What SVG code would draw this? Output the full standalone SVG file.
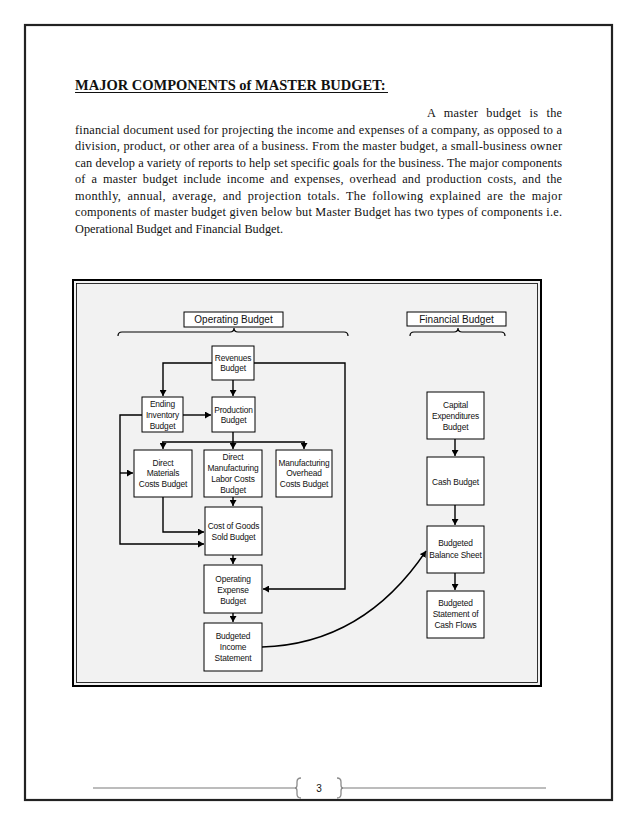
<svg xmlns="http://www.w3.org/2000/svg" width="638" height="826" viewBox="0 0 638 826">
<defs>
<style>
.body{font-family:"Liberation Serif","Times New Roman",serif;font-size:12.3px;fill:#111}
.title{font-family:"Liberation Serif","Times New Roman",serif;font-size:14.5px;font-weight:bold;fill:#111}
.box{fill:#fff;stroke:#000;stroke-width:1}
.lbl{font-family:"Liberation Sans",Arial,sans-serif;font-size:8.4px;fill:#111;text-anchor:middle;letter-spacing:-0.15px}
.hdr{font-family:"Liberation Sans",Arial,sans-serif;font-size:10px;fill:#111;text-anchor:middle}
.con{fill:none;stroke:#000;stroke-width:1.4}
.brace{fill:none;stroke:#000;stroke-width:1.2}
</style>
<marker id="arr" markerUnits="userSpaceOnUse" markerWidth="7" markerHeight="7" refX="6" refY="3.5" orient="auto">
<path d="M0,0 L6,3.5 L0,7 Z" fill="#000"/>
</marker>
</defs>
<rect x="0" y="0" width="638" height="826" fill="#fff"/>
<!-- page border -->
<rect x="25" y="25" width="587" height="775" fill="none" stroke="#222" stroke-width="2.2"/>

<!-- heading and body -->
<g id="heading">
<text class="title" x="75" y="90">MAJOR COMPONENTS of MASTER BUDGET:</text>
<line x1="75" y1="92.5" x2="388" y2="92.5" stroke="#111" stroke-width="1"/>
</g>
<g id="bodytext">
<text class="body" x="427" y="117" word-spacing="5" textLength="135" lengthAdjust="spacing">A master budget is the</text>
<text class="body" x="75" y="133.5" textLength="487" lengthAdjust="spacing">financial document used for projecting the income and expenses of a company, as opposed to a</text>
<text class="body" x="75" y="150" textLength="487" lengthAdjust="spacing">division, product, or other area of a business. From the master budget, a small-business owner</text>
<text class="body" x="75" y="166.5" textLength="487" lengthAdjust="spacing">can develop a variety of reports to help set specific goals for the business. The major components</text>
<text class="body" x="75" y="183" word-spacing="2.5" textLength="487" lengthAdjust="spacing">of a master budget include income and expenses, overhead and production costs, and the</text>
<text class="body" x="75" y="199.5" word-spacing="2.7" textLength="487" lengthAdjust="spacing">monthly, annual, average, and projection totals. The following explained are the major</text>
<text class="body" x="75" y="216" textLength="487" lengthAdjust="spacing">components of master budget given below but Master Budget has two types of components i.e.</text>
<text class="body" x="75" y="232.5">Operational Budget and Financial Budget.</text>
</g>

<!-- diagram frame -->
<g id="frame">
<rect x="73" y="280" width="468" height="406" fill="#f2f2f2" stroke="#000" stroke-width="2"/>
<rect x="76.5" y="283.5" width="461" height="399" fill="none" stroke="#000" stroke-width="0.8"/>
</g>

<g id="operating-header">
<rect x="184" y="312" width="99" height="15" class="box"/>
<text class="hdr" x="233.5" y="323">Operating Budget</text>
<path class="brace" d="M118,336 Q118,332 122,332 L230,332 Q234,332 234,328 Q234,332 238,332 L344,332 Q348,332 348,336"/>
</g>
<g id="financial-header">
<rect x="407" y="312" width="99" height="14" class="box"/>
<text class="hdr" x="456.5" y="323">Financial Budget</text>
<path class="brace" d="M410,336 Q410,332 414,332 L454,332 Q458,332 458,328 Q458,332 462,332 L501,332 Q505,332 505,336"/>
</g>

<!-- connectors -->
<g id="connectors">
<path class="con" d="M212,363 H163 V396" marker-end="url(#arr)"/>
<path class="con" d="M233,380 V396" marker-end="url(#arr)"/>
<path class="con" d="M254,363 H345 V589 H263" marker-end="url(#arr)"/>
<path class="con" d="M183,415 H211" marker-end="url(#arr)"/>
<path class="con" d="M142,415 H120 V544 H204" marker-end="url(#arr)"/>
<path class="con" d="M120,473 H133" marker-end="url(#arr)"/>
<path class="con" d="M233,432 V442 M162,442 H305"/>
<path class="con" d="M163,442 V449" marker-end="url(#arr)"/>
<path class="con" d="M233,442 V449" marker-end="url(#arr)"/>
<path class="con" d="M304,442 V449" marker-end="url(#arr)"/>
<path class="con" d="M233,497 V506" marker-end="url(#arr)"/>
<path class="con" d="M163,497 V532 H204" marker-end="url(#arr)"/>
<path class="con" d="M233,555 V564" marker-end="url(#arr)"/>
<path class="con" d="M233,613 V622" marker-end="url(#arr)"/>
<path class="con" d="M262,647 C330,645 385,612 426,551" marker-end="url(#arr)"/>
<path class="con" d="M455,439 V456" marker-end="url(#arr)"/>
<path class="con" d="M455,505 V525" marker-end="url(#arr)"/>
<path class="con" d="M455,573 V590" marker-end="url(#arr)"/>
</g>

<!-- nodes -->
<g id="revenues">
<rect class="box" x="212" y="346" width="42" height="34"/>
<text class="lbl" x="233" y="361">Revenues</text>
<text class="lbl" x="233" y="371">Budget</text>
</g>
<g id="ending-inventory">
<rect class="box" x="142" y="397" width="41" height="35"/>
<text class="lbl" x="162.5" y="407">Ending</text>
<text class="lbl" x="162.5" y="418">Inventory</text>
<text class="lbl" x="162.5" y="429">Budget</text>
</g>
<g id="production">
<rect class="box" x="212" y="397" width="43" height="35"/>
<text class="lbl" x="233.5" y="413">Production</text>
<text class="lbl" x="233.5" y="423">Budget</text>
</g>
<g id="direct-materials">
<rect class="box" x="134" y="450" width="58" height="47"/>
<text class="lbl" x="163" y="466">Direct</text>
<text class="lbl" x="163" y="476">Materials</text>
<text class="lbl" x="163" y="487">Costs Budget</text>
</g>
<g id="direct-labor">
<rect class="box" x="204" y="450" width="58" height="47"/>
<text class="lbl" x="233" y="460">Direct</text>
<text class="lbl" x="233" y="471">Manufacturing</text>
<text class="lbl" x="233" y="482">Labor Costs</text>
<text class="lbl" x="233" y="493">Budget</text>
</g>
<g id="overhead">
<rect class="box" x="276" y="450" width="56" height="47"/>
<text class="lbl" x="304" y="466">Manufacturing</text>
<text class="lbl" x="304" y="476">Overhead</text>
<text class="lbl" x="304" y="487">Costs Budget</text>
</g>
<g id="cogs">
<rect class="box" x="205" y="507" width="57" height="48"/>
<text class="lbl" x="233.5" y="529">Cost of Goods</text>
<text class="lbl" x="233.5" y="540">Sold Budget</text>
</g>
<g id="operating-expense">
<rect class="box" x="204" y="565" width="58" height="48"/>
<text class="lbl" x="233" y="582">Operating</text>
<text class="lbl" x="233" y="593">Expense</text>
<text class="lbl" x="233" y="604">Budget</text>
</g>
<g id="income-statement">
<rect class="box" x="204" y="623" width="58" height="48"/>
<text class="lbl" x="233" y="639">Budgeted</text>
<text class="lbl" x="233" y="650">Income</text>
<text class="lbl" x="233" y="661">Statement</text>
</g>
<g id="capital">
<rect class="box" x="427" y="392" width="57" height="47"/>
<text class="lbl" x="455.5" y="408">Capital</text>
<text class="lbl" x="455.5" y="419">Expenditures</text>
<text class="lbl" x="455.5" y="430">Budget</text>
</g>
<g id="cash">
<rect class="box" x="427" y="457" width="57" height="48"/>
<text class="lbl" x="455.5" y="485">Cash Budget</text>
</g>
<g id="balance-sheet">
<rect class="box" x="427" y="526" width="57" height="47"/>
<text class="lbl" x="455.5" y="546">Budgeted</text>
<text class="lbl" x="455.5" y="558">Balance Sheet</text>
</g>
<g id="cash-flows">
<rect class="box" x="427" y="591" width="57" height="47"/>
<text class="lbl" x="455.5" y="606">Budgeted</text>
<text class="lbl" x="455.5" y="617">Statement of</text>
<text class="lbl" x="455.5" y="628">Cash Flows</text>
</g>

<!-- footer -->
<g id="footer">
<line x1="93" y1="788" x2="297" y2="788" stroke="#a6a6a6" stroke-width="1.5"/>
<line x1="341" y1="788" x2="546" y2="788" stroke="#a6a6a6" stroke-width="1.5"/>
<path d="M301,778 Q297,778 297,782 V785 Q297,788 295,788 Q297,788 297,791 V794 Q297,798 301,798" fill="none" stroke="#8c8c8c" stroke-width="1.3"/>
<path d="M337,778 Q341,778 341,782 V785 Q341,788 343,788 Q341,788 341,791 V794 Q341,798 337,798" fill="none" stroke="#8c8c8c" stroke-width="1.3"/>
<text x="319" y="791.5" font-family="Liberation Sans, Arial, sans-serif" font-size="10" fill="#111" text-anchor="middle">3</text>
</g>
</svg>
